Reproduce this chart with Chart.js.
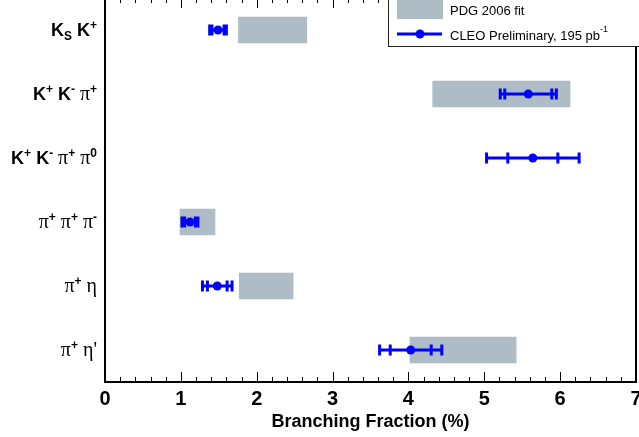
<!DOCTYPE html>
<html lang="en">
<head>
<meta charset="UTF-8">
<title>D+ Branching Fractions</title>
<script src="https://cdn.jsdelivr.net/npm/chart.js"></script>
<style>
  html, body { margin: 0; padding: 0; background: #fff; overflow: hidden; }
  #wrap { position: absolute; left: 0; top: -2px; width: 639px; height: 439px; }
</style>
</head>
<body>
<div id="wrap"><canvas id="bfChart"></canvas></div>
<script>
// decay modes, top to bottom
const modes = ['KsK', 'KKpi', 'KKpipi0', 'pipipi', 'pieta', 'pietap'];
// label pieces: [text, style]  b = roman bold, g = greek, sup / sub
const modeLabels = [
  [['K', 'b'], ['S', 'sub'], [' K', 'b'], ['+', 'sup']],
  [['K', 'b'], ['+', 'sup'], [' K', 'b'], ['-', 'sup'], [' ', 'b'], ['\u03c0', 'g'], ['+', 'sup']],
  [['K', 'b'], ['+', 'sup'], [' K', 'b'], ['-', 'sup'], [' ', 'b'], ['\u03c0', 'g'], ['+', 'sup'], [' ', 'b'], ['\u03c0', 'g'], ['0', 'sup']],
  [['\u03c0', 'g'], ['+', 'sup'], [' ', 'b'], ['\u03c0', 'g'], ['+', 'sup'], [' ', 'b'], ['\u03c0', 'g'], ['-', 'sup']],
  [['\u03c0', 'g'], ['+', 'sup'], [' ', 'b'], ['\u03b7', 'g']],
  [['\u03c0', 'g'], ['+', 'sup'], [' ', 'b'], ['\u03b7', 'g'], ['\'', 'g']]
];

// PDG 2006 fit ranges (%)
const pdgLow  = [1.76, 4.32, null, 0.99, 1.77, 4.02];
const pdgHigh = [2.66, 6.13, null, 1.45, 2.48, 5.42];

// CLEO preliminary, 195 pb^-1 (%)
const cleoValue = [1.49, 5.58, 5.64, 1.12, 1.48, 4.03];
const cleoStat  = [0.08, 0.31, 0.33, 0.07, 0.13, 0.27];
const cleoTotal = [0.11, 0.37, 0.61, 0.105, 0.195, 0.41];

const xTicks = [0, 1, 2, 3, 4, 5, 6, 7];

const BLUE = '#0000ff';
const GREY = '#adbcc5';
const SANS = '"Liberation Sans", Arial, sans-serif';
const SERIF = '"Liberation Serif", "Times New Roman", serif';

const fonts = {
    b: 'bold 18px ' + SANS,
    g: '20px ' + SERIF,
    sup: 'bold 12px ' + SANS,
    sub: 'bold 12px ' + SANS
};
const shifts = { b: 0, g: 0, sup: -7, sub: 4 };

function drawRich(ctx, parts, xRight, y) {
    let w = 0;
    parts.forEach(p => { ctx.font = fonts[p[1]]; w += ctx.measureText(p[0]).width; });
    let x = xRight - w;
    parts.forEach(p => {
        ctx.font = fonts[p[1]];
        ctx.fillText(p[0], x, y + shifts[p[1]]);
        x += ctx.measureText(p[0]).width;
    });
}

const errorBars = {
    id: 'errorBars',
    afterDatasetDraw(chart, args) {
        if (args.index !== 0) return;
        const { ctx, scales: { x, y } } = chart;
        ctx.save();
        ctx.strokeStyle = BLUE;
        ctx.lineWidth = 3;
        cleoValue.forEach((v, i) => {
            const py = y.getPixelForValue(i);
            const ends = [v - cleoTotal[i], v - cleoStat[i], v + cleoStat[i], v + cleoTotal[i]]
                .map(e => x.getPixelForValue(e));
            ctx.beginPath();
            ctx.moveTo(ends[0], py);
            ctx.lineTo(ends[3], py);
            ends.forEach(px => {
                ctx.moveTo(px, py - 5.5);
                ctx.lineTo(px, py + 5.5);
            });
            ctx.stroke();
        });
        ctx.restore();
    }
};

const decorations = {
    id: 'decorations',
    afterDraw(chart) {
        const { ctx, chartArea: a, scales: { x, y } } = chart;
        ctx.save();
        // minor / major ticks, inside top and bottom
        ctx.strokeStyle = '#000';
        ctx.lineWidth = 1;
        for (let i = 0; i <= 35; i++) {
            const px = Math.round(x.getPixelForValue(i / 5)) + 0.5;
            const len = i % 5 === 0 ? 10 : 5;
            ctx.beginPath();
            ctx.moveTo(px, a.bottom);
            ctx.lineTo(px, a.bottom - len);
            ctx.moveTo(px, a.top);
            ctx.lineTo(px, a.top + len);
            ctx.stroke();
        }
        // frame
        ctx.lineWidth = 2;
        ctx.strokeRect(a.left, a.top, a.right - a.left, a.bottom - a.top);

        // category labels
        ctx.fillStyle = '#000';
        ctx.textBaseline = 'alphabetic';
        ctx.textAlign = 'left';
        modeLabels.forEach((parts, i) => {
            drawRich(ctx, parts, 97, y.getPixelForValue(i) + 6);
        });

        // legend
        ctx.fillStyle = '#fff';
        ctx.fillRect(388, -5, 270, 53);
        ctx.strokeStyle = '#222';
        ctx.lineWidth = 1;
        ctx.strokeRect(388.5, -5, 270, 53.5);
        ctx.fillStyle = GREY;
        ctx.fillRect(397, 1, 46, 20);
        ctx.strokeStyle = BLUE;
        ctx.lineWidth = 3;
        ctx.beginPath();
        ctx.moveTo(397, 36);
        ctx.lineTo(442, 36);
        ctx.stroke();
        ctx.fillStyle = BLUE;
        ctx.beginPath();
        ctx.arc(420, 36, 4.5, 0, Math.PI * 2);
        ctx.fill();
        ctx.fillStyle = '#000';
        ctx.textBaseline = 'middle';
        ctx.font = '13px ' + SANS;
        ctx.fillText('PDG 2006 fit', 450, 13);
        const t = 'CLEO Preliminary, 195 pb';
        ctx.fillText(t, 450, 38);
        const tw = ctx.measureText(t).width;
        ctx.font = '9px ' + SANS;
        ctx.fillText('-1', 450 + tw, 32);
        ctx.restore();
    }
};

const ctx = document.getElementById('bfChart').getContext('2d');
new Chart(ctx, {
    type: 'bar',
    data: {
        labels: modes,
        datasets: [{
            label: 'PDG 2006 fit',
            data: modes.map((m, i) => pdgLow[i] === null ? null : [pdgLow[i], pdgHigh[i]]),
            backgroundColor: GREY,
            borderWidth: 0,
            barThickness: 26,
            order: 2
        }, {
            type: 'line',
            label: 'CLEO Preliminary',
            data: cleoValue,
            showLine: false,
            pointRadius: 4.5,
            pointBackgroundColor: BLUE,
            pointBorderWidth: 0,
            borderColor: BLUE,
            order: 1
        }]
    },
    options: {
        indexAxis: 'y',
        responsive: true,
        maintainAspectRatio: false,
        animation: false,
        layout: { autoPadding: false, padding: { left: 0, right: 3, top: 0, bottom: 0 } },
        plugins: { legend: { display: false }, tooltip: { enabled: false } },
        scales: {
            x: {
                type: 'linear',
                min: 0,
                max: 7,
                afterBuildTicks: s => { s.ticks = xTicks.map(v => ({ value: v })); },
                grid: { display: false, drawTicks: false },
                border: { display: false },
                ticks: {
                    color: '#000',
                    padding: 5,
                    font: { family: SANS, size: 20, weight: 'bold' }
                },
                title: {
                    display: true,
                    text: 'Branching Fraction (%)',
                    color: '#000',
                    font: { family: SANS, size: 18, weight: 'bold' },
                    padding: { top: 0, bottom: 4 }
                },
                afterFit: s => { s.height = 55; s.paddingLeft = 0; s.paddingRight = 0; }
            },
            y: {
                type: 'category',
                offset: true,
                grid: { display: false, drawTicks: false },
                border: { display: false },
                ticks: { display: false },
                afterFit: s => { s.width = 105; s.paddingTop = 0; s.paddingBottom = 0; }
            }
        }
    },
    plugins: [errorBars, decorations]
});
</script>
</body>
</html>
